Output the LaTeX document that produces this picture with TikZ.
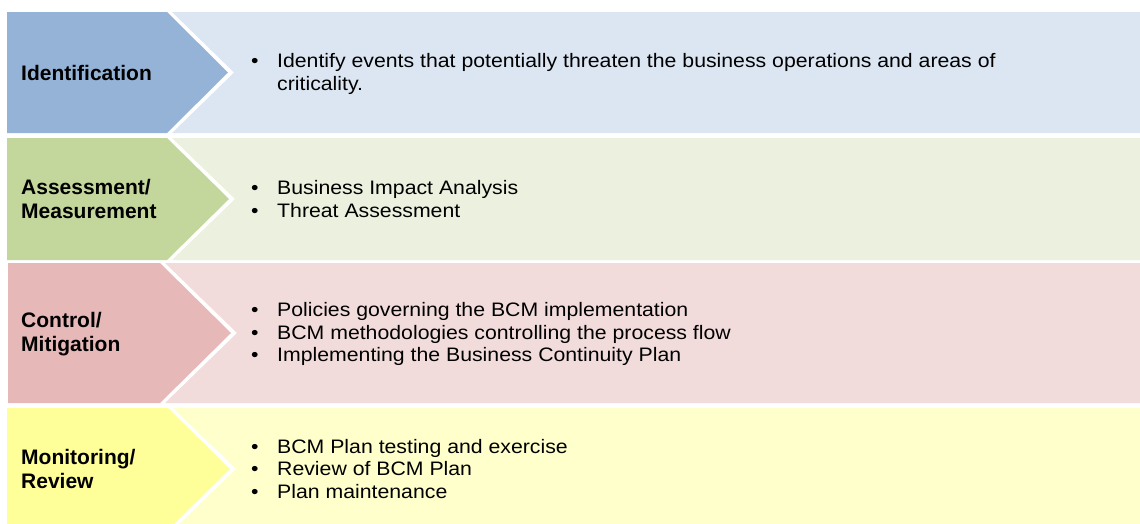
\documentclass[tikz,border=0pt]{standalone}
\usepackage{fontspec}
\setmainfont{Liberation Sans}
\newfontfamily\bodyfont{Liberation Sans}[FakeStretch=1.09]
\newfontfamily\labfont{Liberation Sans}
\newcommand\bitem{\makebox[26pt][l]{•}}
\definecolor{cBlue}{HTML}{95B3D7}
\definecolor{pBlue}{HTML}{DCE6F2}
\definecolor{cGreen}{HTML}{C3D69B}
\definecolor{pGreen}{HTML}{EBF1DE}
\definecolor{cRed}{HTML}{E6B9B8}
\definecolor{pRed}{HTML}{F2DCDB}
\definecolor{cYellow}{HTML}{FFFF99}
\definecolor{pYellow}{HTML}{FFFFCC}
\tikzset{
  lab/.style={anchor=west, inner sep=0pt, align=left, font=\labfont\bfseries\fontsize{21}{24}\selectfont},
  body/.style={anchor=west, inner sep=0pt, align=left, font=\bodyfont\fontsize{19.5}{22.5}\selectfont},
}
\begin{document}
\begin{tikzpicture}[x=1pt, y=-1pt]
\useasboundingbox (0,0) rectangle (1140,523);
\clip (0,0) rectangle (1140,523);
% row 1
\fill[pBlue] (172,12) -- (1140,12) -- (1140,133) -- (172,133) -- (234,72.5) -- cycle;
\fill[cBlue] (7,12) -- (167,12) -- (228,72.5) -- (167,133) -- (7,133) -- cycle;
% row 2
\fill[pGreen] (172,138) -- (1140,138) -- (1140,260) -- (172,260) -- (235,199) -- cycle;
\fill[cGreen] (7,138) -- (167,138) -- (229,199) -- (167,260) -- (7,260) -- cycle;
% row 3
\fill[pRed] (165,263) -- (1140,263) -- (1140,403) -- (165,403) -- (237,333) -- cycle;
\fill[cRed] (8,263) -- (160,263) -- (231,333) -- (160,403) -- (8,403) -- cycle;
% row 4
\fill[pYellow] (173,408) -- (1140,408) -- (1140,530) -- (173,530) -- (236,469) -- cycle;
\fill[cYellow] (7,408) -- (168,408) -- (230,469) -- (168,530) -- (7,530) -- cycle;
% labels
\node[lab] (l1) at (21,72.5) {Identification};
\node[lab] (l2) at (21,199) {Assessment/\\Measurement};
\node[lab] (l3) at (21,334) {Control/\\Mitigation};
\node[lab] (l4) at (21,469) {Monitoring/\\Review};
% texts
\node[body] (t1) at (251,74) {\bitem Identify events that potentially threaten the business operations and areas of\\\hspace*{26pt}criticality.};
\node[body] (t2) at (251,199) {\bitem Business Impact Analysis\\\bitem Threat Assessment};
\node[body] (t3) at (251,334) {\bitem Policies governing the BCM implementation\\\bitem BCM methodologies controlling the process flow\\\bitem Implementing the Business Continuity Plan};
\node[body] (t4) at (251,469) {\bitem BCM Plan testing and exercise\\\bitem Review of BCM Plan\\\bitem Plan maintenance};
\end{tikzpicture}
\end{document}
